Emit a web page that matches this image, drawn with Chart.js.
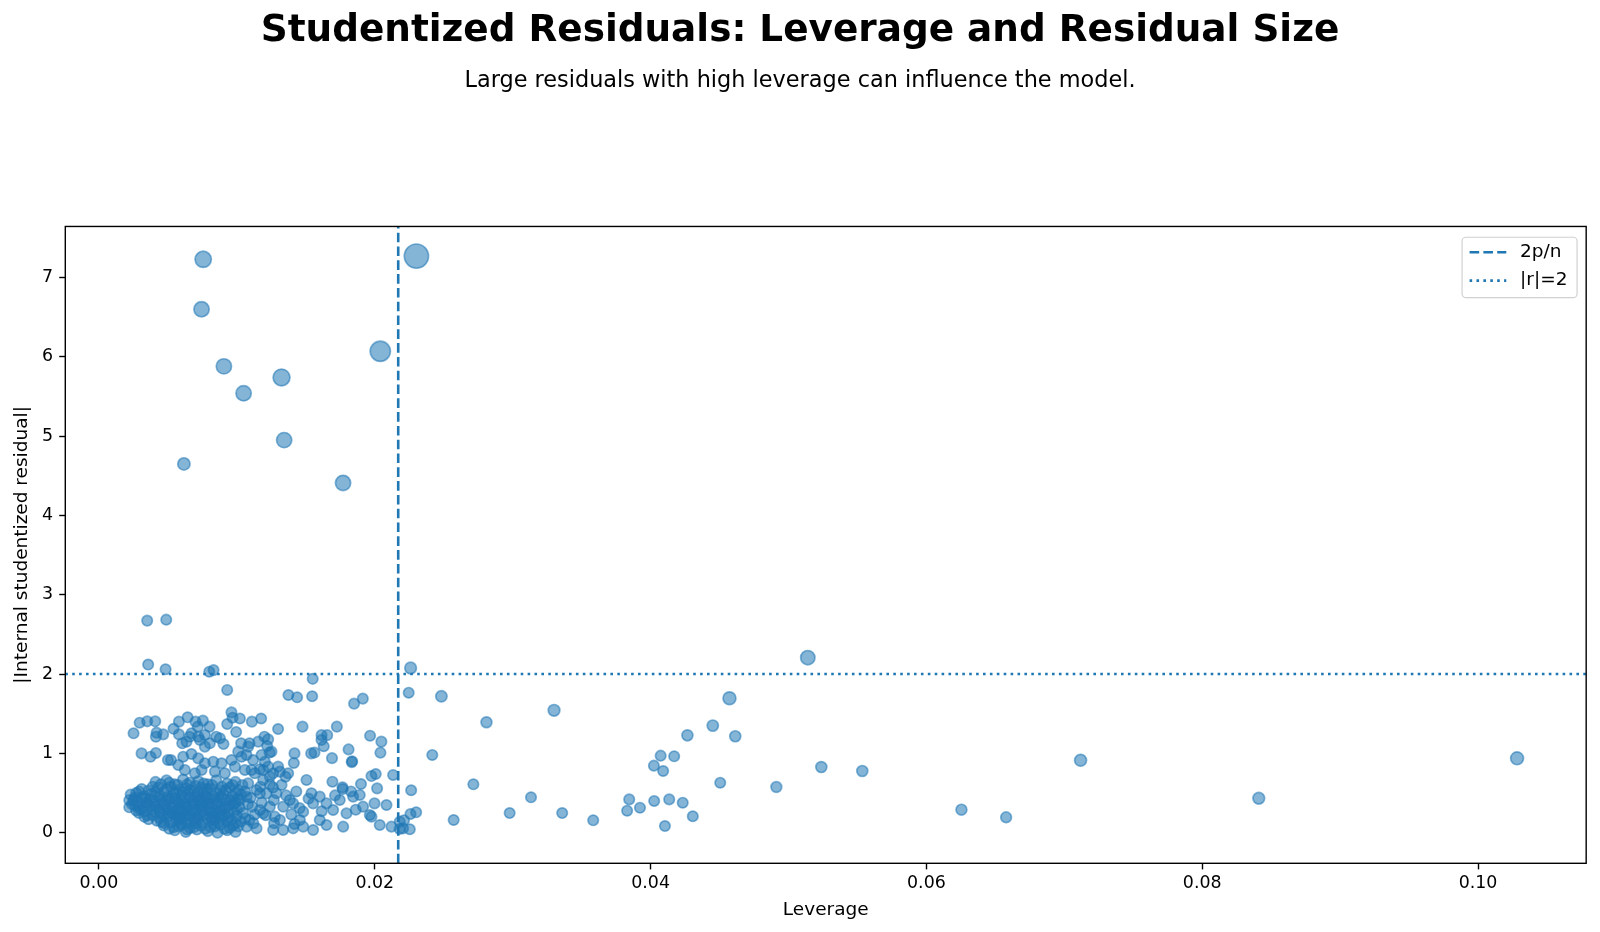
<!DOCTYPE html>
<html>
<head>
<meta charset="utf-8">
<style>
html,body{margin:0;padding:0;background:#ffffff;}
#wrap{width:1600px;height:932px;}
canvas{display:block;}
</style>
<script src="https://cdn.jsdelivr.net/npm/chart.js@4.4.0/dist/chart.umd.min.js"></script>
</head>
<body>
<div id="wrap"><canvas id="chart" width="1600" height="932"></canvas></div>
<script>
// ---------------- DATA ----------------
const titleText = "Studentized Residuals: Leverage and Residual Size";
const subtitleText = "Large residuals with high leverage can influence the model.";
const xLabel = "Leverage";
const yLabel = "|Internal studentized residual|";

const leverageCutoff = 0.0217;   // 2p/n
const residualCutoff = 2;        // |r| = 2

const xTicks = [0.00, 0.02, 0.04, 0.06, 0.08, 0.10];
const yTicks = [0, 1, 2, 3, 4, 5, 6, 7];

// influential observations: leverage, |residual|, marker size (pt^2)
const infLev = [0.00756, 0.00744, 0.00906, 0.01049, 0.01324, 0.01343, 0.00616, 0.0177, 0.0204, 0.02302,
                0.0514, 0.04572, 0.10283, 0.0841, 0.07118, 0.06578, 0.06254, 0.0226, 0.02483, 0.033,
                0.0281, 0.04451, 0.04614, 0.04267, 0.05238, 0.05535, 0.04912];
const infRes = [7.23, 6.60, 5.88, 5.54, 5.74, 4.95, 4.65, 4.41, 6.07, 7.27,
                2.207, 1.695, 0.938, 0.434, 0.913, 0.194, 0.29, 2.076, 1.72, 1.543,
                1.392, 1.35, 1.216, 1.228, 0.828, 0.778, 0.576];
const infSize = [88, 77, 77, 77, 94, 77, 50, 77, 136, 195,
                 68, 55, 55, 45, 47, 38, 39, 45, 42, 45,
                 39, 42, 40, 40, 40, 40, 38];

// remaining observations, grouped by region: [leverage, |residual|]
const highResid = [[0.0035,2.674],[0.00488,2.686],[0.00357,2.12],[0.00483,2.06],[0.008,2.03],[0.00831,2.05],
  [0.0093,1.80],[0.0155,1.94],[0.01374,1.736],[0.01437,1.707],[0.01546,1.72],[0.0185,1.627],[0.01913,1.69],[0.02246,1.765]];

const beyondCutoff = [[0.02417,0.98],[0.02715,0.61],[0.02264,0.535],[0.03133,0.446],[0.02978,0.248],[0.03359,0.248],
  [0.02572,0.16],[0.03584,0.156],[0.02259,0.236],[0.023,0.257],[0.02212,0.156],[0.02254,0.043],[0.0218,0.046],
  [0.04073,0.971],[0.04171,0.963],[0.04024,0.845],[0.04091,0.778],[0.04505,0.63],[0.03845,0.42],[0.03923,0.315],
  [0.0383,0.277],[0.04026,0.40],[0.04135,0.42],[0.04233,0.378],[0.04104,0.084],[0.04306,0.207]];

const upperBand = [[0.00961,1.517],[0.00969,1.45],[0.00295,1.387],[0.0035,1.404],[0.00408,1.404],[0.00251,1.253],
  [0.00418,1.261],[0.00466,1.24],[0.00413,1.21],[0.00541,1.31],[0.0058,1.24],[0.00643,1.455],[0.0058,1.40],[0.0070,1.40],
  [0.00754,1.413],[0.00717,1.337],[0.00802,1.337],[0.00604,1.127],[0.00657,1.21],[0.00732,1.168],[0.00768,1.085],
  [0.0085,1.21],[0.00903,1.118],[0.0093,1.37],[0.00995,1.27],[0.01031,1.127],[0.01092,1.127],[0.01109,1.40],[0.01176,1.44],
  [0.012,1.21],[0.0122,1.093],[0.01237,1.01],[0.01299,1.307],[0.01476,1.337],[0.01725,1.337],[0.01614,1.23],[0.01655,1.23],
  [0.0163,1.09],[0.01563,1.01],[0.01539,1.0],[0.0169,0.94],[0.0181,1.05],[0.01836,0.90],[0.01833,0.89],[0.01966,1.223],
  [0.02048,1.148],[0.02041,1.009],[0.00309,1.0],[0.00374,0.958],[0.00413,1.005],[0.005,0.917],[0.01418,1.0],[0.01413,0.879],
  [0.01022,1.44],[0.00635,1.147],[0.00671,1.253],[0.0072,1.211],[0.00768,1.232],[0.00804,1.127],[0.00877,1.19],[0.01082,1.085],
  [0.01155,1.148],[0.01227,1.177],[0.0101,1.022],[0.0107,0.98],[0.00522,0.916],[0.00611,0.958],[0.00671,0.992],[0.0072,0.937],
  [0.00768,0.875],[0.00829,0.895],[0.00889,0.875],[0.00961,0.916],[0.01034,0.958],[0.01118,0.916],[0.01203,0.895],[0.01251,1.022],
  [0.00575,0.854],[0.00623,0.791],[0.00696,0.749],[0.00744,0.791],[0.00841,0.77],[0.00913,0.749],[0.00986,0.833],[0.01058,0.791],
  [0.0113,0.749],[0.01191,0.791],[0.01179,0.98],[0.01227,0.833],[0.01299,0.833],[0.01614,1.17]];

const midBand = [[0.01239,0.707],[0.01263,0.749],[0.01191,0.665],[0.01215,0.496],[0.01106,0.791],[0.01082,0.622],[0.01143,0.538],
  [0.01071,0.454],[0.01111,0.328],[0.01046,0.244],[0.01091,0.160],[0.01022,0.412],[0.01071,0.076],[0.01143,0.055],[0.01167,0.286],
  [0.01167,0.80],[0.01312,0.77],[0.01372,0.749],[0.01505,0.665],[0.01693,0.643],[0.019,0.614],[0.01976,0.714],[0.02007,0.74],
  [0.02133,0.728],[0.02017,0.559],[0.01766,0.572],[0.01167,0.497],[0.01287,0.497],[0.01384,0.412],[0.01336,0.328],[0.01239,0.328],
  [0.01191,0.244],[0.01275,0.202],[0.01408,0.370],[0.01481,0.265],[0.01541,0.497],[0.01553,0.370],[0.01601,0.455],[0.0165,0.370],
  [0.01698,0.286],[0.01746,0.412],[0.01795,0.244],[0.01843,0.455],[0.01891,0.476],[0.01915,0.328],[0.01998,0.370],[0.02085,0.349],
  [0.01964,0.223],[0.01976,0.202],[0.02036,0.097],[0.02121,0.076],[0.02181,0.139],[0.02205,0.055],[0.01263,0.034],[0.01336,0.034],
  [0.01408,0.055],[0.01481,0.076],[0.01553,0.034],[0.0165,0.097],[0.01771,0.076],[0.01601,0.160],[0.01457,0.160],[0.01312,0.160],
  [0.01353,0.706],[0.01324,0.602],[0.01768,0.55],[0.01262,0.57],[0.01431,0.52],[0.01395,0.23],[0.0152,0.43],[0.01357,0.47],
  [0.01455,0.31],[0.01268,0.41],[0.01615,0.27],[0.01712,0.47],[0.01862,0.29],[0.01828,0.52],[0.0127,0.12],[0.01418,0.11]];

const coreCluster = [
  [0.0041,0.64],[0.0049,0.66],[0.0055,0.61],[0.0061,0.67],[0.0066,0.63],[0.0072,0.65],[0.0079,0.61],[0.0085,0.66],[0.0093,0.62],[0.0099,0.64],[0.0104,0.60],
  [0.0031,0.55],[0.0036,0.53],[0.0043,0.57],[0.0047,0.52],[0.0052,0.58],[0.0058,0.54],[0.0063,0.56],[0.0069,0.52],[0.0074,0.57],[0.0081,0.55],[0.0088,0.53],[0.0095,0.57],[0.0101,0.54],
  [0.0023,0.48],[0.0027,0.50],[0.0033,0.46],[0.0038,0.49],[0.0044,0.47],[0.0050,0.45],[0.0054,0.50],[0.0060,0.47],[0.0065,0.49],[0.0071,0.45],[0.0077,0.48],[0.0083,0.46],[0.0090,0.49],[0.0097,0.46],[0.0103,0.48],
  [0.0022,0.41],[0.0028,0.39],[0.0034,0.43],[0.0040,0.40],[0.0046,0.38],[0.0051,0.42],[0.0057,0.39],[0.0062,0.43],[0.0068,0.40],[0.0075,0.38],[0.0079,0.42],[0.0086,0.39],[0.0092,0.41],[0.0099,0.38],
  [0.0022,0.32],[0.0026,0.35],[0.0032,0.31],[0.0037,0.34],[0.0043,0.30],[0.0048,0.33],[0.0055,0.35],[0.0059,0.31],[0.0064,0.34],[0.0071,0.30],[0.0076,0.33],[0.0082,0.35],[0.0089,0.31],[0.0094,0.34],[0.0102,0.32],
  [0.0029,0.25],[0.0035,0.22],[0.0041,0.26],[0.0046,0.23],[0.0052,0.27],[0.0058,0.24],[0.0063,0.22],[0.0069,0.26],[0.0073,0.23],[0.0080,0.27],[0.0087,0.24],[0.0091,0.22],[0.0098,0.26],
  [0.0036,0.17],[0.0042,0.15],[0.0049,0.19],[0.0056,0.16],[0.0061,0.18],[0.0067,0.14],[0.0072,0.17],[0.0078,0.19],[0.0084,0.15],[0.0090,0.18],[0.0096,0.16],[0.0103,0.14],
  [0.0047,0.09],[0.0054,0.07],[0.0060,0.10],[0.0066,0.06],[0.0074,0.09],[0.0081,0.07],[0.0088,0.10],[0.0095,0.06],[0.0101,0.08],
  [0.0055,0.03],[0.0063,0.01],[0.0071,0.04],[0.0079,0.02],[0.0086,0.00],[0.0093,0.03],[0.0099,0.01],
  [0.0053,0.44],[0.0058,0.29],[0.0062,0.37],[0.0066,0.21],[0.0069,0.45],[0.0073,0.31],[0.0077,0.39],[0.0081,0.20],[0.0084,0.28],[0.0087,0.44],
  [0.0061,0.52],[0.0070,0.12],[0.0076,0.50],[0.0080,0.36],[0.0057,0.20],[0.0050,0.30],[0.0045,0.42],[0.0064,0.28],[0.0074,0.43],[0.0083,0.12],
  [0.0068,0.35],[0.0054,0.24],[0.0040,0.36],[0.0034,0.38],[0.0026,0.44],[0.0030,0.29],[0.0091,0.30],[0.0096,0.42],[0.0047,0.12],[0.0059,0.12]];

const coreCluster2 = [
  [0.0039,0.58],[0.0045,0.61],[0.0051,0.63],[0.0057,0.60],[0.0064,0.61],[0.0070,0.59],[0.0076,0.62],[0.0082,0.60],[0.0089,0.58],[0.0097,0.60],
  [0.0029,0.52],[0.0041,0.51],[0.0049,0.55],[0.0056,0.51],[0.0066,0.54],[0.0072,0.51],[0.0078,0.55],[0.0085,0.51],[0.0092,0.54],[0.0099,0.50],
  [0.0025,0.41],[0.0031,0.44],[0.0037,0.42],[0.0043,0.45],[0.0049,0.40],[0.0055,0.43],[0.0060,0.40],[0.0066,0.44],[0.0072,0.41],[0.0078,0.45],
  [0.0084,0.42],[0.0089,0.45],[0.0095,0.40],[0.0101,0.43],
  [0.0024,0.36],[0.0029,0.33],[0.0035,0.36],[0.0041,0.33],[0.0047,0.36],[0.0053,0.32],[0.0058,0.37],[0.0063,0.32],[0.0069,0.37],[0.0074,0.34],
  [0.0080,0.31],[0.0085,0.36],[0.0092,0.33],[0.0098,0.36],
  [0.0027,0.28],[0.0033,0.27],[0.0039,0.29],[0.0044,0.27],[0.0050,0.25],[0.0056,0.28],[0.0061,0.26],[0.0067,0.29],[0.0075,0.27],[0.0082,0.25],
  [0.0088,0.28],[0.0094,0.25],[0.0100,0.29],
  [0.0033,0.20],[0.0039,0.22],[0.0044,0.19],[0.0051,0.21],[0.0059,0.19],[0.0065,0.23],[0.0071,0.20],[0.0076,0.22],[0.0083,0.20],[0.0089,0.21],
  [0.0094,0.19],[0.0100,0.21],
  [0.0045,0.14],[0.0052,0.13],[0.0058,0.15],[0.0064,0.12],[0.0069,0.16],[0.0075,0.13],[0.0082,0.16],[0.0087,0.13],[0.0093,0.14],[0.0099,0.12],
  [0.0051,0.05],[0.0058,0.08],[0.0064,0.04],[0.0069,0.07],[0.0077,0.05],[0.0084,0.08],[0.0091,0.05],[0.0097,0.09],
  [0.0106,0.52],[0.0110,0.44],[0.0108,0.36],[0.0113,0.23],[0.0106,0.18],[0.0112,0.12],[0.0118,0.38],[0.0121,0.22],[0.0124,0.61],[0.0117,0.58]];

// ---------------- CHART ----------------
const X_MIN = -0.00244, X_MAX = 0.10784, Y_MIN = -0.386, Y_MAX = 7.644;
const PX_PER_PT = 125 / 72;
const BASE_S = 36;
const radiusFromS = s => Math.sqrt(s) / 2 * PX_PER_PT;
const BLUE = '#1f77b4';
const FILL = 'rgba(31,119,180,0.55)';
const EDGE = 'rgba(31,119,180,0.55)';
const FONT = "'DejaVu Sans', 'Liberation Sans', sans-serif";

const basePoints = [...coreCluster, ...coreCluster2, ...midBand, ...upperBand, ...highResid, ...beyondCutoff].map(([x, y]) => ({x, y}));
const infPoints = infLev.map((x, i) => ({x, y: infRes[i]}));

const framePlugin = {
  id: 'frame',
  afterDatasetsDraw(chart) {
    const {ctx, chartArea: a} = chart;
    ctx.save();
    ctx.strokeStyle = '#000';
    ctx.lineWidth = 1.4;
    ctx.strokeRect(a.left, a.top, a.right - a.left, a.bottom - a.top);
    ctx.restore();
  }
};

const legendPlugin = {
  id: 'mplLegend',
  afterDraw(chart) {
    const {ctx, chartArea: a} = chart;
    const w = 115, h = 60.4;
    const x0 = a.right - 9.1 - w, y0 = a.top + 10.8;
    ctx.save();
    ctx.beginPath();
    if (ctx.roundRect) ctx.roundRect(x0, y0, w, h, 4); else ctx.rect(x0, y0, w, h);
    ctx.fillStyle = 'rgba(255,255,255,0.8)';
    ctx.fill();
    ctx.strokeStyle = 'rgba(204,204,204,0.9)';
    ctx.lineWidth = 1.2;
    ctx.stroke();
    const items = [
      {label: '2p/n', dash: [9.6, 4.2], y: y0 + 15},
      {label: '|r|=2', dash: [2.6, 4.3], y: y0 + 43.4}
    ];
    items.forEach(it => {
      ctx.beginPath();
      ctx.setLineDash(it.dash);
      ctx.lineCap = 'butt';
      ctx.strokeStyle = BLUE;
      ctx.lineWidth = 2.6;
      ctx.moveTo(x0 + 7.5, it.y);
      ctx.lineTo(x0 + 44.2, it.y);
      ctx.stroke();
      ctx.setLineDash([]);
      ctx.fillStyle = '#000';
      ctx.font = `18.5px ${FONT}`;
      ctx.textAlign = 'left';
      ctx.textBaseline = 'middle';
      ctx.fillText(it.label, x0 + 58, it.y);
    });
    ctx.restore();
  }
};

new Chart(document.getElementById('chart'), {
  type: 'scatter',
  data: {
    datasets: [
      {
        type: 'line', label: '2p/n',
        data: [{x: leverageCutoff, y: Y_MIN}, {x: leverageCutoff, y: Y_MAX}],
        borderColor: BLUE, borderWidth: 2.6, borderDash: [9.6, 4.2], borderCapStyle: 'butt',
        pointRadius: 0, fill: false, tension: 0
      },
      {
        type: 'line', label: '|r|=2',
        data: [{x: X_MIN, y: residualCutoff}, {x: X_MAX, y: residualCutoff}],
        borderColor: BLUE, borderWidth: 2.6, borderDash: [2.6, 4.3], borderCapStyle: 'butt',
        pointRadius: 0, fill: false, tension: 0
      },
      {
        label: 'influential',
        data: infPoints,
        backgroundColor: FILL, borderColor: EDGE, borderWidth: 1.7,
        pointRadius: infSize.map(radiusFromS), pointHoverRadius: infSize.map(radiusFromS)
      },
      {
        label: 'observations',
        data: basePoints,
        backgroundColor: FILL, borderColor: EDGE, borderWidth: 1.7,
        pointRadius: radiusFromS(BASE_S), pointHoverRadius: radiusFromS(BASE_S)
      }
    ]
  },
  options: {
    responsive: false,
    animation: false,
    devicePixelRatio: 1,
    events: [],
    layout: {padding: {left: 13.2, right: 13.2, top: 0, bottom: 0}},
    plugins: {
      legend: {display: false},
      tooltip: {enabled: false},
      title: {
        display: true, text: titleText, color: '#000',
        font: {family: FONT, size: 37.4, weight: 'bold', lineHeight: 1.2},
        padding: {top: 8.4, bottom: 0}
      },
      subtitle: {
        display: true, text: subtitleText, color: '#000',
        font: {family: FONT, size: 22.4, weight: 'normal', lineHeight: 1.2},
        padding: {top: 14.3, bottom: 132}
      }
    },
    scales: {
      x: {
        type: 'linear', min: X_MIN, max: X_MAX,
        afterBuildTicks: s => { s.ticks = xTicks.map(v => ({value: v})); },
        afterFit: s => { s.height = 68.7; },
        ticks: {
          callback: v => Number(v).toFixed(2), color: '#000',
          font: {family: FONT, size: 17.4}, padding: 4, maxRotation: 0, autoSkip: false
        },
        grid: {display: true, drawOnChartArea: false, drawTicks: true, tickLength: 6.1, tickWidth: 1.4, tickColor: '#000', color: '#000'},
        border: {display: false},
        title: {display: true, text: xLabel, color: '#000', font: {family: FONT, size: 18.5}, padding: {top: 0, bottom: 11.1}}
      },
      y: {
        type: 'linear', min: Y_MIN, max: Y_MAX,
        afterBuildTicks: s => { s.ticks = yTicks.map(v => ({value: v})); },
        afterFit: s => { s.width = 52.1; },
        ticks: {
          callback: v => String(v), color: '#000',
          font: {family: FONT, size: 17.4}, padding: 6.1, autoSkip: false
        },
        grid: {display: true, drawOnChartArea: false, drawTicks: true, tickLength: 6.1, tickWidth: 1.4, tickColor: '#000', color: '#000'},
        border: {display: false},
        title: {display: true, text: yLabel, color: '#000', font: {family: FONT, size: 18.5}, padding: {top: -2.2, bottom: 0}}
      }
    }
  },
  plugins: [framePlugin, legendPlugin]
});
</script>
</body>
</html>
